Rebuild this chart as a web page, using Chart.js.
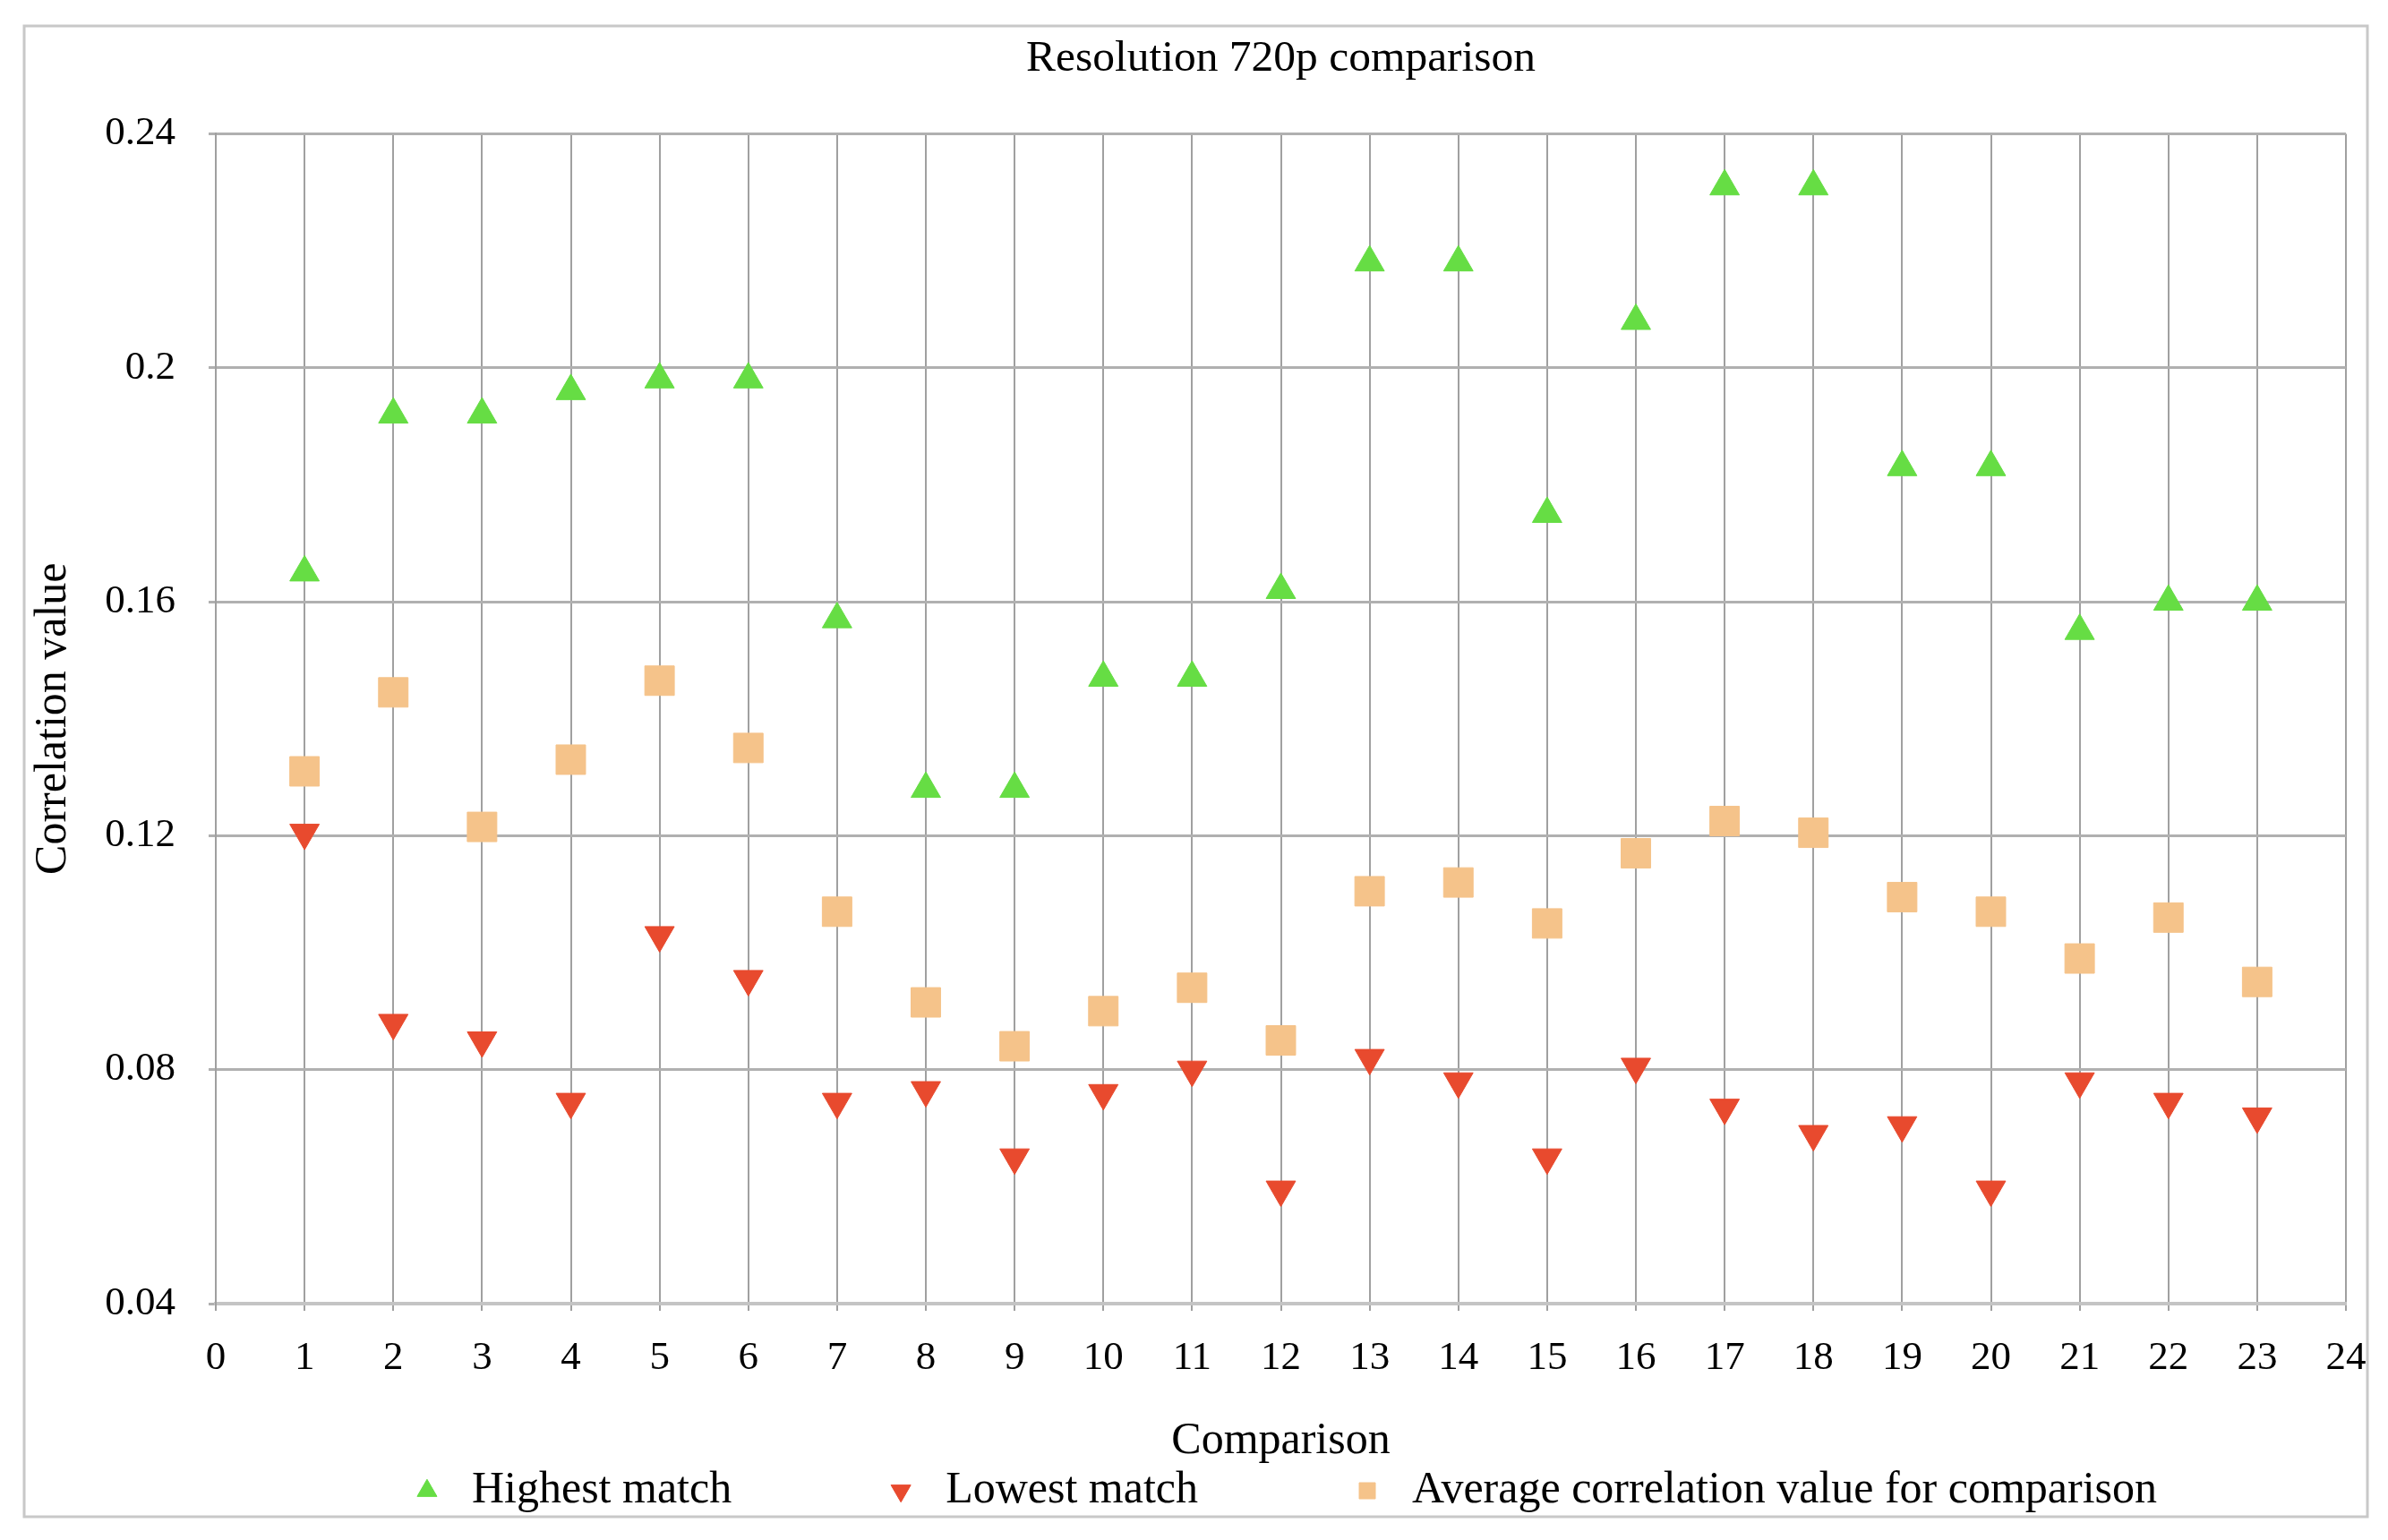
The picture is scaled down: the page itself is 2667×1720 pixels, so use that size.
<!DOCTYPE html>
<html>
<head>
<meta charset="utf-8">
<title>Resolution 720p comparison</title>
<script src="https://cdn.jsdelivr.net/npm/chart.js@4.4.1/dist/chart.umd.min.js"></script>
<style>
    html, body { margin: 0; padding: 0; background: #fff; }
</style>
</head>
<body>
<canvas id="grafico" width="2667" height="1720"></canvas>
<script>
// ================== DADOS ==================
const comparacoes = [1, 2, 3, 4, 5, 6, 7, 8, 9, 10, 11, 12, 13, 14, 15, 16, 17, 18, 19, 20, 21, 22, 23];

const highestMatch = [0.165, 0.192, 0.192, 0.196, 0.198, 0.198, 0.157, 0.128, 0.128, 0.147, 0.147, 0.162,
                      0.218, 0.218, 0.175, 0.208, 0.231, 0.231, 0.183, 0.183, 0.155, 0.160, 0.160];

const lowestMatch = [0.1205, 0.088, 0.085, 0.0745, 0.103, 0.0955, 0.0745, 0.0765, 0.065, 0.076, 0.080, 0.0595,
                     0.082, 0.078, 0.065, 0.0805, 0.0735, 0.069, 0.0705, 0.0595, 0.078, 0.0745, 0.072];

const averageValue = [0.131, 0.1445, 0.1215, 0.133, 0.1465, 0.135, 0.107, 0.0915, 0.084, 0.090, 0.094, 0.085,
                      0.1105, 0.112, 0.105, 0.117, 0.1225, 0.1205, 0.1095, 0.107, 0.099, 0.106, 0.095];

// Marcas dos eixos
const xTicks = [0, 1, 2, 3, 4, 5, 6, 7, 8, 9, 10, 11, 12, 13, 14, 15, 16, 17, 18, 19, 20, 21, 22, 23, 24];
const yTicks = [0.04, 0.08, 0.12, 0.16, 0.2, 0.24];

// ================== AUXILIARES ==================
const fonte = "'Liberation Serif', 'DejaVu Serif', serif";
const pontos = valores => comparacoes.map((c, i) => ({ x: c, y: valores[i] }));

// Fundo branco e moldura cinza em volta do gráfico
const moldura = {
    id: 'moldura',
    beforeDraw(chart) {
        const c = chart.ctx;
        c.save();
        c.fillStyle = '#ffffff';
        c.fillRect(0, 0, chart.width, chart.height);
        c.strokeStyle = '#c8c8c8';
        c.lineWidth = 3;
        c.strokeRect(27, 29, 2617, 1665);
        c.restore();
    }
};

// ================== GRÁFICO ==================
const ctx = document.getElementById('grafico').getContext('2d');

const grafico = new Chart(ctx, {
    type: 'scatter',
    data: {
        datasets: [{
            label: 'Highest match',
            data: pontos(highestMatch),
            pointStyle: 'triangle',
            pointRadius: 19,
            backgroundColor: '#66DD44',
            borderColor: '#66DD44',
            borderWidth: 1
        }, {
            label: 'Lowest match',
            data: pontos(lowestMatch),
            pointStyle: 'triangle',
            rotation: 180,
            pointRadius: 19,
            backgroundColor: '#E84A2E',
            borderColor: '#E84A2E',
            borderWidth: 1
        }, {
            label: 'Average correlation value for comparison',
            data: pontos(averageValue),
            pointStyle: 'rect',
            pointRadius: 23.3,
            backgroundColor: '#F5C38A',
            borderColor: '#F5C38A',
            borderWidth: 1
        }]
    },
    options: {
        responsive: false,
        animation: false,
        events: [],
        layout: { padding: { left: 0, right: 47, top: 0, bottom: 20 } },
        plugins: {
            title: {
                display: true,
                text: 'Resolution 720p comparison',
                fullSize: false,
                color: '#000',
                font: { family: fonte, size: 49.5, weight: 'normal' },
                padding: { top: 36, bottom: 54 }
            },
            legend: {
                position: 'bottom',
                fullSize: false,
                labels: {
                    usePointStyle: true,
                    boxWidth: 50,
                    boxHeight: 18,
                    padding: 164,
                    color: '#000',
                    font: { family: fonte, size: 50 }
                }
            },
            tooltip: { enabled: false }
        },
        scales: {
            x: {
                type: 'linear',
                min: 0,
                max: 24,
                afterBuildTicks: s => { s.ticks = xTicks.map(v => ({ value: v })); },
                afterFit: s => { s.height = 20; s.paddingLeft = 0; s.paddingRight = 0; },
                grid: { color: '#a0a0a0', lineWidth: 2, tickLength: 8 },
                border: { color: '#c4c4c4', width: 4 },
                ticks: {
                    color: '#000',
                    font: { family: fonte, size: 45 },
                    mirror: true,     // rótulos desenhados sem recorte, abaixo do eixo
                    padding: -88,
                    maxRotation: 0,
                    autoSkip: false
                },
                title: {
                    display: true,
                    text: 'Comparison',
                    color: '#000',
                    font: { family: fonte, size: 50 },
                    padding: { top: 0, bottom: -164 }
                }
            },
            y: {
                type: 'linear',
                min: 0.04,
                max: 0.24,
                afterBuildTicks: s => { s.ticks = yTicks.map(v => ({ value: v })); },
                afterFit: s => { s.width = 241; s.paddingTop = 0; s.paddingBottom = 0; },
                grid: { color: '#b0b0b0', lineWidth: 3, tickLength: 8 },
                border: { color: '#a0a0a0', width: 2 },
                ticks: {
                    color: '#000',
                    font: { family: fonte, size: 45 },
                    padding: 37,
                    callback: v => String(+v.toFixed(2))
                },
                title: {
                    display: true,
                    text: 'Correlation value',
                    color: '#000',
                    font: { family: fonte, size: 50 },
                    padding: { top: 30, bottom: 0 }
                }
            }
        }
    },
    plugins: [moldura]
});
</script>
</body>
</html>
